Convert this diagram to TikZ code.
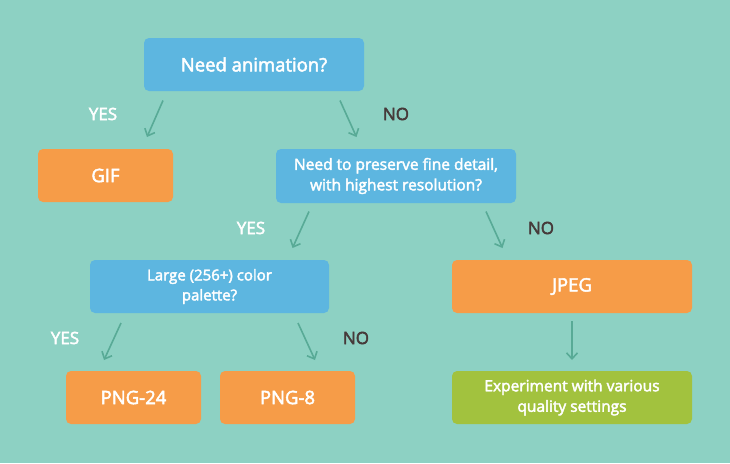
\documentclass[tikz,border=0pt]{standalone}
\usepackage{fontspec}
\setmainfont{Open Sans}[FakeBold=2.6]
\usetikzlibrary{arrows.meta}
\definecolor{bg}{RGB}{141,209,195}
\definecolor{qblue}{RGB}{93,182,224}
\definecolor{aorange}{RGB}{246,156,72}
\definecolor{agreen}{RGB}{162,194,62}
\definecolor{arr}{RGB}{88,170,150}
\definecolor{notext}{RGB}{70,58,58}
\tikzset{
  box/.style={rounded corners=5pt, inner sep=0pt, text=white, align=center},
  qbox/.style={box, fill=qblue},
  abox/.style={box, fill=aorange},
  gbox/.style={box, fill=agreen},
  conn/.style={draw=arr, line width=1.6pt, -{Straight Barb[length=6pt,width=11pt,line width=1.6pt]}},
  yes/.style={text=white, font=\fontsize{17}{20}\selectfont},
  no/.style={text=notext, font=\fontsize{17}{20}\selectfont},
}
\begin{document}
\begin{tikzpicture}[x=1pt,y=-1pt]
\fill[bg] (0,0) rectangle (730,463);
\useasboundingbox (0,0) rectangle (730,463);
% boxes
\node[qbox, minimum width=220pt, minimum height=53pt, font=\fontsize{18.5}{22}\selectfont] (anim) at (254,64.5) {Need animation?};
\node[abox, minimum width=135pt, minimum height=53pt, font=\fontsize{18.5}{22}\selectfont] (gif) at (105.5,175.5) {GIF};
\node[qbox, minimum width=240pt, minimum height=54pt, font=\fontsize{15.5}{20.5}\selectfont] (detail) at (396,176) {Need to preserve fine detail,\\with highest resolution?};
\node[qbox, minimum width=239pt, minimum height=53pt, font=\fontsize{15}{20}\selectfont] (pal) at (209.5,286.5) {Large (256+) color\\palette?};
\node[abox, minimum width=240pt, minimum height=53pt, font=\fontsize{18.5}{22}\selectfont] (jpeg) at (572,286.5) {JPEG};
\node[abox, minimum width=135pt, minimum height=53pt, font=\fontsize{18.5}{22}\selectfont] (png24) at (133.5,397.5) {PNG-24};
\node[abox, minimum width=135pt, minimum height=53pt, font=\fontsize{18.5}{22}\selectfont] (png8) at (287.5,397.5) {PNG-8};
\node[gbox, minimum width=240pt, minimum height=53pt, font=\fontsize{15.5}{20.5}\selectfont] (exp) at (572,397.5) {Experiment with various\\quality settings};
% connector endpoints
\coordinate (a1s) at (163,100.5); \coordinate (a1e) at (147,137);
\coordinate (a2s) at (340,100.5); \coordinate (a2e) at (356.5,137);
\coordinate (b1s) at (309,211.5); \coordinate (b1e) at (292.5,248);
\coordinate (b2s) at (486,211.5); \coordinate (b2e) at (502.5,248);
\coordinate (c1s) at (121,323); \coordinate (c1e) at (104,360);
\coordinate (c2s) at (298,323); \coordinate (c2e) at (315,360);
\coordinate (d1s) at (572,321); \coordinate (d1e) at (572,360);
\draw[conn] (a1s) -- (a1e);
\draw[conn] (a2s) -- (a2e);
\draw[conn] (b1s) -- (b1e);
\draw[conn] (b2s) -- (b2e);
\draw[conn] (c1s) -- (c1e);
\draw[conn] (c2s) -- (c2e);
\draw[conn] (d1s) -- (d1e);
% labels
\node[yes] (l1) at (103,114) {YES};
\node[no] (l2) at (396,114) {NO};
\node[yes] (l3) at (251,228) {YES};
\node[no] (l4) at (541,228) {NO};
\node[yes] (l5) at (65,338) {YES};
\node[no] (l6) at (356,338) {NO};
\end{tikzpicture}
\end{document}
